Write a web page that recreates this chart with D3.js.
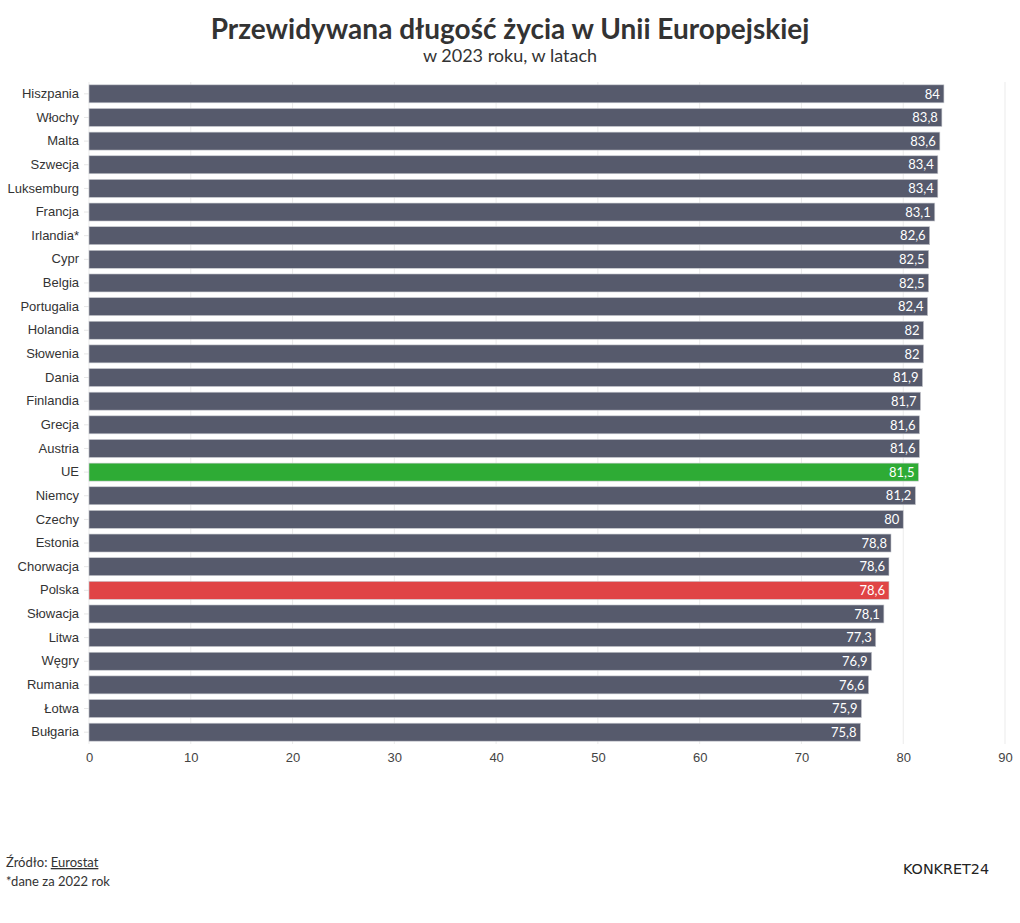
<!DOCTYPE html>
<meta charset="utf-8">
<style>
body { margin: 0; background: #fff; }
svg { font-family: "Source Sans Pro", Lato, "Noto Sans", sans-serif; }
</style>
<svg width="1020" height="923"></svg>
<script src="https://d3js.org/d3.v7.min.js"></script>
<script>

var countries = ["Hiszpania", "Włochy", "Malta", "Szwecja", "Luksemburg", "Francja", "Irlandia*", "Cypr",
  "Belgia", "Portugalia", "Holandia", "Słowenia", "Dania", "Finlandia", "Grecja", "Austria", "UE",
  "Niemcy", "Czechy", "Estonia", "Chorwacja", "Polska", "Słowacja", "Litwa", "Węgry", "Rumania", "Łotwa", "Bułgaria"];
var values = [84, 83.8, 83.6, 83.4, 83.4, 83.1, 82.6, 82.5, 82.5, 82.4, 82, 82, 81.9, 81.7, 81.6, 81.6, 81.5,
  81.2, 80, 78.8, 78.6, 78.6, 78.1, 77.3, 76.9, 76.6, 75.9, 75.8];
var xTicks = [0, 10, 20, 30, 40, 50, 60, 70, 80, 90];
var highlight = { "UE": "#2eab35", "Polska": "#e04445" };

var data = countries.map(function(c, i) { return { name: c, value: values[i] }; });

var svg = d3.select("svg"),
    margin = { top: 82, right: 15, bottom: 179, left: 89 },
    width = +svg.attr("width") - margin.left - margin.right,
    height = +svg.attr("height") - margin.top - margin.bottom;

var x = d3.scaleLinear().domain([0, 90]).range([0, width]);
var y = d3.scaleBand().domain(countries).range([0, height]).paddingInner(0.24).paddingOuter(0.12);

var fmt = function(v) { return String(v).replace(".", ","); };

svg.append("text")
    .attr("x", 510).attr("y", 39)
    .attr("text-anchor", "middle")
    .attr("font-size", 28).attr("font-weight", 700).attr("fill", "#333")
    .text("Przewidywana długość życia w Unii Europejskiej");
svg.append("text")
    .attr("x", 510).attr("y", 62)
    .attr("text-anchor", "middle")
    .attr("font-size", 18).attr("fill", "#333")
    .text("w 2023 roku, w latach");

var g = svg.append("g").attr("transform", "translate(" + margin.left + "," + margin.top + ")");

g.selectAll(".grid")
  .data(xTicks)
  .enter().append("line")
    .attr("x1", function(d) { return x(d); }).attr("x2", function(d) { return x(d); })
    .attr("y1", 0).attr("y2", height)
    .attr("stroke", "#ebebeb");

var xAxis = g.append("g")
    .attr("transform", "translate(0," + height + ")")
    .call(d3.axisBottom(x).tickValues(xTicks).tickSize(0).tickPadding(9));
xAxis.select(".domain").remove();
xAxis.selectAll("text").attr("font-size", 13).attr("fill", "#444").attr("font-family", null);

var yAxis = g.append("g")
    .call(d3.axisLeft(y).tickSize(5).tickPadding(5));
yAxis.select(".domain").remove();
yAxis.selectAll("line").attr("stroke", "#e6e6e6");
yAxis.selectAll("text").attr("font-size", 13).attr("fill", "#333").attr("font-family", null);

g.selectAll(".bar")
  .data(data)
  .enter().append("rect")
    .attr("x", x(0))
    .attr("y", function(d) { return y(d.name); })
    .attr("width", function(d) { return x(d.value) - x(0); })
    .attr("height", y.bandwidth())
    .attr("fill", function(d) { return highlight[d.name] || "#565a6c"; })
    .attr("stroke", "#c8cad0").attr("stroke-width", 0.6);

g.selectAll(".val")
  .data(data)
  .enter().append("text")
    .attr("x", function(d) { return x(d.value) - 4; })
    .attr("y", function(d) { return y(d.name) + y.bandwidth() / 2; })
    .attr("dy", "0.36em")
    .attr("text-anchor", "end")
    .attr("font-size", 13).attr("fill", "#fff")
    .text(function(d) { return fmt(d.value); });

var foot = svg.append("text").attr("x", 6).attr("y", 867).attr("font-size", 13).attr("fill", "#333");
foot.append("tspan").text("Źródło: ");
foot.append("tspan").attr("text-decoration", "underline").text("Eurostat");
svg.append("text").attr("x", 6).attr("y", 886).attr("font-size", 13).attr("fill", "#333")
    .text("*dane za 2022 rok");

svg.append("text")
    .attr("x", 903).attr("y", 874)
    .attr("font-size", 14).attr("font-weight", 500).attr("fill", "#222")
    .attr("font-family", "'DejaVu Sans', sans-serif")
    .attr("textLength", 86).attr("lengthAdjust", "spacingAndGlyphs")
    .text("KONKRET24");

</script>
